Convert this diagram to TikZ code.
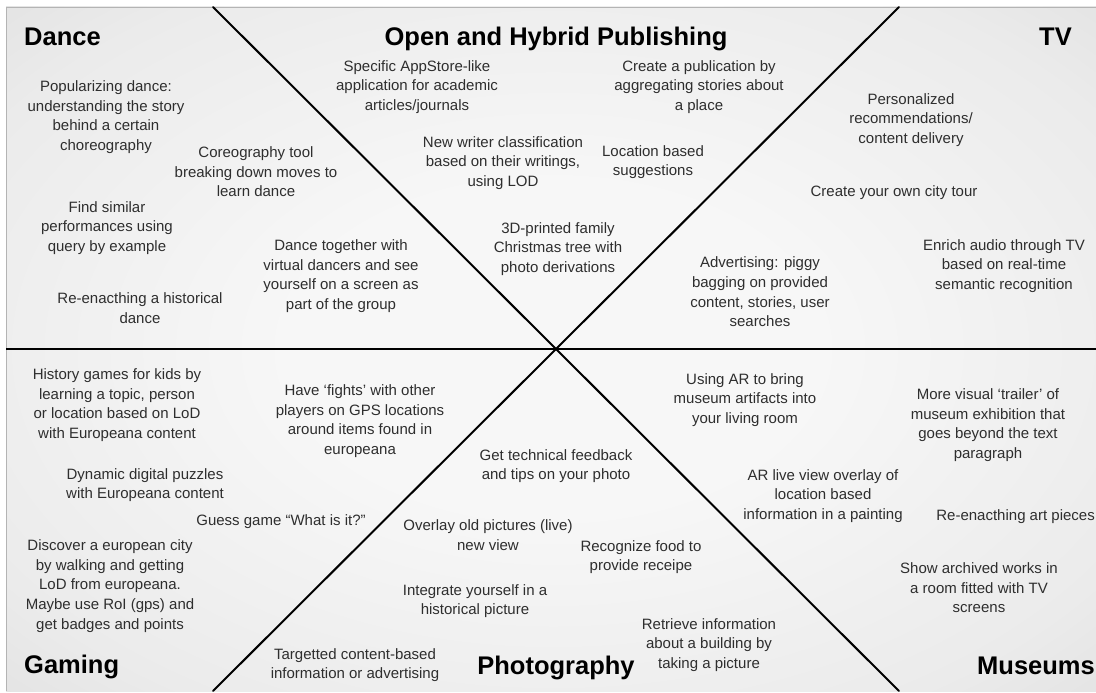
\documentclass[tikz,border=0pt]{standalone}
\usepackage{fontspec}
\setmainfont{Liberation Sans}
\definecolor{ink}{HTML}{2E2E2E}
\definecolor{bgcenter}{HTML}{F7F7F7}
\definecolor{bgmid}{HTML}{EBEBEB}
\definecolor{bgedge}{HTML}{D2D2D2}
\definecolor{bgcorner}{HTML}{BFBFBF}
\definecolor{framegray}{HTML}{B4B4B4}
\pgfdeclareradialshading{panelshade}{\pgfpoint{0bp}{0bp}}{%
  color(0bp)=(bgcenter); color(12bp)=(bgcenter); color(30bp)=(bgmid);
  color(50bp)=(bgedge); color(72bp)=(bgcorner)}
\tikzset{
  idea/.style={align=center, inner sep=0pt, text=ink,
    font=\fontsize{15}{19.6}\selectfont},
  heading/.style={inner sep=0pt, text=black,
    font=\fontsize{25.5}{30}\selectfont\bfseries},
  divider/.style={line width=2.8pt, black},
  sector/.style={line width=2pt, black, line cap=round}
}
\begin{document}
\begin{tikzpicture}[x=1pt, y=-1pt]
\useasboundingbox (0,0) rectangle (1096,693);
% shaded panel
\fill[white] (0,0) rectangle (1096,693);
\shade[shading=panelshade] (6,7) rectangle (1100,691);
\draw[framegray, line width=0.8pt] (1100,7) -- (6,7) -- (6,691);

% dividing lines through the centre
\coordinate (c) at (556,349);
\coordinate (west) at (6,349);
\coordinate (east) at (1100,349);
\coordinate (nw) at (213,7);
\coordinate (ne) at (899,7);
\coordinate (sw) at (213,691);
\coordinate (se) at (899,691);
\draw[divider] (west) -- (east);
\draw[sector] (nw) -- (c) -- (se);
\draw[sector] (ne) -- (c) -- (sw);

% headings
\node[heading, anchor=base west] (hdance) at (24,46) {Dance};
\node[heading, anchor=base] (hpub) at (556,46) {Open and Hybrid Publishing};
\node[heading, anchor=base east] (htv) at (1072,46) {TV};
\node[heading, anchor=base west] (hgame) at (24,673) {Gaming};
\node[heading, anchor=base] (hphoto) at (556,674) {Photography};
\node[heading, anchor=base east] (hmus) at (1095,674) {Museums};

% Dance
\node[idea] (d1) at (106,117) {Popularizing dance:\\understanding the story\\behind a certain\\choreography};
\node[idea] (d2) at (256,172) {Coreography tool\\breaking down moves to\\learn dance};
\node[idea] (d3) at (107,228) {Find similar\\performances using\\query by example};
\node[idea] (d4) at (140,308) {Re-enacthing a historical\\dance};
\node[idea] (d5) at (341,276) {Dance together with\\virtual dancers and see\\yourself on a screen as\\part of the group};

% Open and Hybrid Publishing
\node[idea] (p1) at (417,87) {Specific AppStore-like\\application for academic\\articles/journals};
\node[idea] (p2) at (699,87) {Create a publication by\\aggregating stories about\\a place};
\node[idea] (p3) at (503,163) {New writer classification\\based on their writings,\\using LOD};
\node[idea] (p4) at (653,162) {Location based\\suggestions};
\node[idea] (p5) at (558,249) {3D-printed family\\Christmas tree with\\photo derivations};
\node[idea] (p6) at (760,292) {Advertising: piggy\\bagging on provided\\content, stories, user\\searches};

% TV
\node[idea] (t1) at (911,120) {Personalized\\recommendations/\\content delivery};
\node[idea] (t2) at (894,193) {Create your own city tour};
\node[idea] (t3) at (1004,266) {Enrich audio through TV\\based on real-time\\semantic recognition};

% Gaming
\node[idea] (g1) at (117,405) {History games for kids by\\learning a topic, person\\or location based on LoD\\with Europeana content};
\node[idea] (g2) at (145,485) {Dynamic digital puzzles\\with Europeana content};
\node[idea] (g3) at (281,522) {Guess game “What is it?”};
\node[idea] (g4) at (110,586) {Discover a european city\\by walking and getting\\LoD from europeana.\\Maybe use RoI (gps) and\\get badges and points};
\node[idea] (g5) at (360,421) {Have ‘fights’ with other\\players on GPS locations\\around items found in\\europeana};
\node[idea] (g6) at (355,665) {Targetted content-based\\information or advertising};

% Photography
\node[idea] (f1) at (556,466) {Get technical feedback\\and tips on your photo};
\node[idea] (f2) at (488,535) {Overlay old pictures (live)\\new view};
\node[idea] (f3) at (641,557) {Recognize food to\\provide receipe};
\node[idea] (f4) at (475,601) {Integrate yourself in a\\historical picture};
\node[idea] (f5) at (709,645) {Retrieve information\\about a building by\\taking a picture};

% Museums
\node[idea] (m1) at (745,400) {Using AR to bring\\museum artifacts into\\your living room};
\node[idea] (m2) at (988,425) {More visual ‘trailer’ of\\museum exhibition that\\goes beyond the text\\paragraph};
\node[idea] (m3) at (823,496) {AR live view overlay of\\location based\\information in a painting};
\node[idea, anchor=east] (m4) at (1095,517) {Re-enacthing art pieces};
\node[idea] (m5) at (979,588) {Show archived works in\\a room fitted with TV\\screens};
\end{tikzpicture}
\end{document}
